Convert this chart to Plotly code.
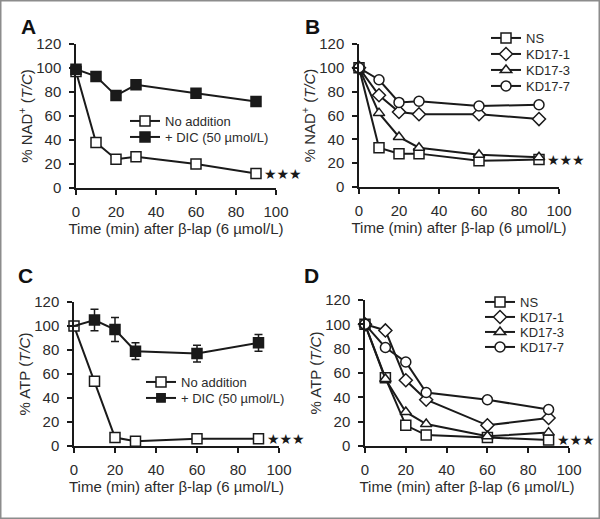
import plotly.graph_objects as go

time = [0, 10, 20, 30, 60, 90]

# Panel A: % NAD+
a_no_add = [97, 38, 24, 26, 20, 12]
a_dic = [99, 93, 77, 86, 79, 72]

# Panel B: % NAD+
b_ns = [100, 33, 28, 28, 22, 23]
b_kd1 = [100, 77, 63, 61, 61, 57]
b_kd3 = [100, 62, 42, 33, 27, 25]
b_kd7 = [100, 90, 71, 72, 68, 69]

# Panel C: % ATP
c_no_add = [100, 54, 7, 4, 6, 6]
c_dic = [100, 105, 97, 79, 77, 86]
c_dic_err = [0, 9, 10, 7, 7, 7]

# Panel D: % ATP
d_ns = [100, 56, 17, 9, 7, 5]
d_kd1 = [100, 95, 54, 38, 17, 23]
d_kd3 = [100, 55, 28, 18, 8, 11]
d_kd7 = [100, 81, 69, 44, 38, 30]

x_ticks = [0, 20, 40, 60, 80, 100]
y_ticks = [0, 20, 40, 60, 80, 100, 120]

INK = "#1a1a1a"
TXT = "#2b2b2b"
FONT = "Liberation Sans, Arial, sans-serif"
W, H = 600, 519


def px_x(p):
    return p / W


def px_y(p):
    return 1 - p / H


fig = go.Figure()
lay = {}
leg_n = [0]


def add(x, y, name, sym, fill, ax, leg_pos, sizes=None, err=None):
    leg_n[0] += 1
    lname = "legend" if leg_n[0] == 1 else "legend%d" % leg_n[0]
    lay[lname] = dict(font=dict(size=13, color=TXT, family=FONT), bgcolor="rgba(0,0,0,0)",
                      xanchor="left", yanchor="middle", itemwidth=30,
                      x=px_x(leg_pos[0]), y=px_y(leg_pos[1]))
    fig.add_trace(go.Scatter(
        x=x, y=y, name=name, mode="lines+markers",
        xaxis="x" + ax, yaxis="y" + ax, legend=lname,
        line=dict(color=INK, width=2),
        marker=dict(symbol=sym, size=sizes if sizes else 10, color=fill, opacity=1,
                    line=dict(color=INK, width=1.5)),
        error_y=dict(type="data", array=err, color=INK, thickness=1.5, width=4,
                     visible=True) if err else None,
        cliponaxis=False,
    ))


add(time, a_no_add, "No addition", "square", "white", "", (125, 121))
add(time, a_dic, "+ DIC (50 µmol/L)", "square", INK, "", (125, 137))

add(time, b_ns, "NS", "square", "white", "2", (486, 38))
add(time, b_kd1, "KD17-1", "diamond", "white", "2", (486, 54))
add(time, b_kd3, "KD17-3", "triangle-up", "white", "2", (486, 70))
add(time, b_kd7, "KD17-7", "circle", "white", "2", (486, 86))

add(time, c_no_add, "No addition", "square", "white", "3", (141, 382))
add(time, c_dic, "+ DIC (50 µmol/L)", "square", INK, "3", (141, 398),
    sizes=[0, 10, 10, 10, 10, 10], err=c_dic_err)

add(time, d_ns, "NS", "square", "white", "4", (480, 302))
add(time, d_kd1, "KD17-1", "diamond", "white", "4", (480, 317))
add(time, d_kd3, "KD17-3", "triangle-up", "white", "4", (480, 332))
add(time, d_kd7, "KD17-7", "circle", "white", "4", (480, 347))

xtitle = "Time (min) after β-lap (6 µmol/L)"
panels = {
    "": dict(x=(76, 276), y=(44, 188), yt="% NAD<sup>+</sup> (<i>T/C</i>)"),
    "2": dict(x=(359, 559), y=(44, 187), yt="% NAD<sup>+</sup> (<i>T/C</i>)"),
    "3": dict(x=(74, 279), y=(302, 446), yt="% ATP (<i>T/C</i>)"),
    "4": dict(x=(365, 569), y=(300, 446), yt="% ATP (<i>T/C</i>)"),
}

axis_common = dict(showline=True, linecolor=INK, linewidth=1.5, ticks="outside",
                   ticklen=5, tickwidth=1.5, tickcolor=INK, showgrid=False,
                   zeroline=False, automargin=False,
                   tickfont=dict(size=15, color=TXT, family=FONT))

for k, p in panels.items():
    xa = dict(axis_common, domain=[px_x(p["x"][0]), px_x(p["x"][1])], range=[0, 100],
              tickvals=x_ticks, anchor="y" + k, ticklabelstandoff=4,
              title=dict(text=xtitle, font=dict(size=15, color=TXT, family=FONT), standoff=2))
    ya = dict(axis_common, domain=[px_y(p["y"][1]), px_y(p["y"][0])], range=[0, 120],
              tickvals=y_ticks, anchor="x" + k, ticklabelstandoff=5,
              title=dict(text=p["yt"], font=dict(size=15, color=TXT, family=FONT), standoff=0))
    lay["xaxis" + k] = xa
    lay["yaxis" + k] = ya

fig.update_layout(
    width=W, height=H, autosize=False, margin=dict(l=0, r=0, t=0, b=0, autoexpand=False),
    paper_bgcolor="white", plot_bgcolor="white", showlegend=True,
    font=dict(family=FONT, color=TXT),
    **lay,
)

# Significance stars
for xr, yr, yv in [("x", "y", a_no_add[-1]), ("x2", "y2", b_ns[-1]),
                   ("x3", "y3", c_no_add[-1]), ("x4", "y4", d_ns[-1])]:
    fig.add_annotation(x=time[-1], y=yv, xref=xr, yref=yr, text="★★★", showarrow=False,
                       xanchor="left", xshift=6, font=dict(size=14, color=INK, family="DejaVu Sans"))

# Panel letters
for letter, lx, ly in [("A", 19, 26), ("B", 303, 26), ("C", 16, 275), ("D", 302, 275)]:
    fig.add_annotation(x=px_x(lx), y=px_y(ly), xref="paper", yref="paper",
                       text="<b>" + letter + "</b>", showarrow=False,
                       xanchor="left", yanchor="middle",
                       font=dict(size=21, color="#111", family=FONT))

# Outer frame
fig.add_shape(type="rect", xref="paper", yref="paper", x0=0, y0=0, x1=1, y1=1,
              line=dict(color="#8c8c8c", width=3))

fig.write_html("out.html",
               config={"responsive": False, "displayModeBar": False},
               post_script="document.body.style.margin='0px';document.body.style.overflow='hidden';")
